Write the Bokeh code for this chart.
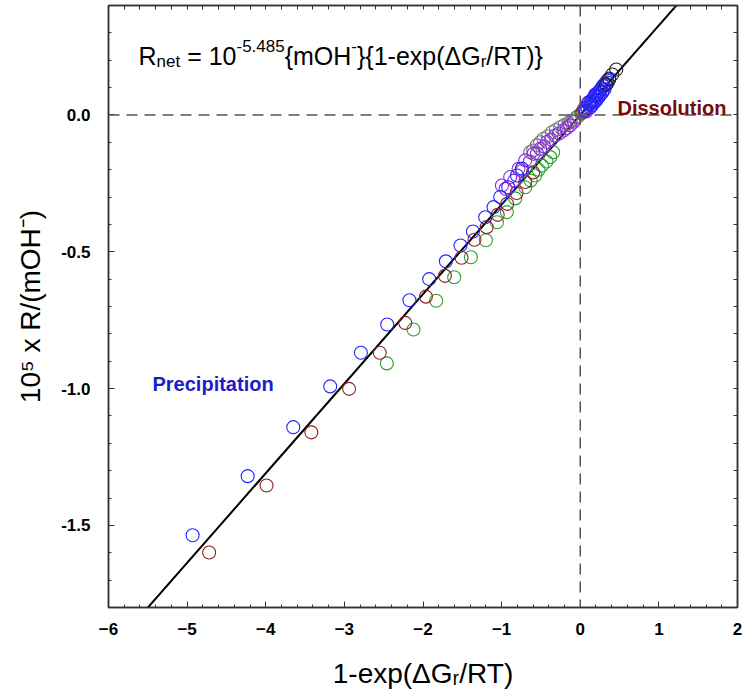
import math
import numpy as np
from bokeh.plotting import figure
from bokeh.models import Range1d, LinearAxis, FixedTicker, NumeralTickFormatter, Span, Label
from bokeh.embed import file_html
from bokeh.resources import INLINE

# ---------------- data ----------------
LOG_K = -5.485
SLOPE = 10 ** LOG_K * 1e5  # 10^5 x R/(mOH-) per unit of 1-exp(dG/RT)

blue_x = [-4.93, -4.23, -3.65, -3.18, -2.79, -2.455, -2.172, -1.921, -1.709, -1.523, -1.365,
          -1.209, -1.103, -1.018, -0.916, -0.805, -0.742,
          0.064, 0.089, 0.100, 0.115, 0.127, 0.140, 0.150, 0.165, 0.178, 0.190, 0.191, 0.204,
          0.216, 0.229, 0.242, 0.250, 0.267, 0.280, 0.293, 0.310, 0.318, 0.344, 0.350, 0.369]
blue_y = [-1.536, -1.320, -1.141, -0.992, -0.869, -0.766, -0.677, -0.600, -0.535, -0.477, -0.426,
          -0.374, -0.337, -0.300, -0.264, -0.221, -0.196,
          0.016, 0.027, 0.045, 0.038, 0.027, 0.049, 0.035, 0.057, 0.046, 0.075, 0.068, 0.053,
          0.079, 0.064, 0.086, 0.072, 0.097, 0.082, 0.108, 0.095, 0.115, 0.126, 0.118, 0.133]

red_x = [-4.72, -3.99, -3.42, -2.94, -2.55, -2.226, -1.963, -1.721, -1.510, -1.345,
         -1.19, -1.05, -0.93, -0.81, -0.70, -0.60, 0.025, 0.051]
red_y = [-1.599, -1.354, -1.160, -1.001, -0.869, -0.760, -0.664, -0.588, -0.522, -0.456,
         -0.410, -0.365, -0.325, -0.285, -0.245, -0.210, 0.009, 0.016]

green_x = [-2.46, -2.121, -1.832, -1.603, -1.391, -1.20, -1.060, -0.933, -0.827, -0.700,
           -0.630, -0.573, -0.530, -0.487, -0.430, -0.382, -0.344, 0.013, 0.038]
green_y = [-0.908, -0.784, -0.679, -0.593, -0.520, -0.458, -0.392, -0.355, -0.305, -0.264,
           -0.240, -0.221, -0.200, -0.185, -0.170, -0.154, -0.136, 0.005, 0.013]

purple_x = [-0.996, -0.950, -0.891, -0.840, -0.785, -0.740, -0.700, -0.640, -0.594, -0.550,
            -0.509, -0.460, -0.424, -0.370, -0.318, -0.270, -0.212, -0.170, -0.127, -0.080,
            0.051, 0.076, 0.102, 0.140, 0.153, 0.180, 0.204, 0.230, 0.254, 0.280, 0.305]
purple_y = [-0.258, -0.270, -0.227, -0.240, -0.197, -0.205, -0.166, -0.170, -0.142, -0.140,
            -0.124, -0.115, -0.099, -0.090, -0.075, -0.068, -0.057, -0.048, -0.038, -0.025,
            0.024, 0.013, 0.042, 0.035, 0.057, 0.052, 0.071, 0.070, 0.090, 0.085, 0.104]

gray_x = [-0.636, -0.600, -0.551, -0.510, -0.467, -0.410, -0.360, -0.310, -0.254, -0.200,
          -0.149, -0.120, -0.085, -0.051, -0.025]
gray_y = [-0.136, -0.130, -0.111, -0.100, -0.087, -0.078, -0.063, -0.055, -0.045, -0.037,
          -0.029, -0.022, -0.020, -0.009, -0.005]

black_x = [0.331, 0.369, 0.407, 0.458]
black_y = [0.111, 0.130, 0.148, 0.166]

x_major = [-6, -5, -4, -3, -2, -1, 0, 1, 2]
y_major = [-1.5, -1.0, -0.5, 0.0]

# ---------------- figure ----------------
FL, FT, FW, FH = 108, 5, 629, 602
W, H = 742, 696
FONT = "Liberation Sans"

p = figure(width=W, height=H, x_range=Range1d(-6, 2), y_range=Range1d(-1.8, 0.4),
           output_backend="svg", toolbar_location=None,
           min_border_left=FL, min_border_right=W - FL - FW, min_border_top=FT,
           min_border_bottom=H - FT - FH, x_axis_location=None, y_axis_location=None)
p.xgrid.visible = False
p.ygrid.visible = False
p.outline_line_color = "#333333"
p.outline_line_width = 1.5
p.background_fill_color = "white"
p.border_fill_color = "white"

x_minor = [round(v, 2) for v in np.arange(-6, 2.001, 0.2)]
y_minor = [round(v, 2) for v in np.arange(-1.8, 0.401, 0.1)]
xt = FixedTicker(ticks=x_major, minor_ticks=x_minor)
yt = FixedTicker(ticks=y_major, minor_ticks=y_minor)


def style_axis(ax):
    ax.axis_line_color = "#333333"
    ax.axis_line_width = 1.5
    ax.major_tick_in = 6
    ax.major_tick_out = 0
    ax.minor_tick_in = 3
    ax.minor_tick_out = 0
    ax.major_tick_line_color = "#333333"
    ax.minor_tick_line_color = "#333333"
    ax.major_label_text_font = FONT
    ax.major_label_text_font_style = "bold"
    ax.major_label_text_font_size = "17px"
    ax.major_label_text_color = "black"
    ax.axis_label_text_font = FONT
    ax.axis_label_text_font_style = "normal"
    ax.axis_label_text_font_size = "28px"
    ax.axis_label_text_color = "black"


xb = LinearAxis(ticker=xt, axis_label="1-exp(ΔGᵣ/RT)")
style_axis(xb)
xb.major_label_standoff = 15
xb.axis_label_standoff = 20
p.add_layout(xb, "below")
yl = LinearAxis(ticker=yt, formatter=NumeralTickFormatter(format="0.0"),
                axis_label="10⁵ x R/(mOH⁻)")
style_axis(yl)
yl.major_label_standoff = 18
yl.axis_label_standoff = 12
p.add_layout(yl, "left")

# mirrored tick marks on top / right (no labels)
for loc, minors in (("above", x_minor), ("right", y_minor)):
    ax = LinearAxis(ticker=FixedTicker(ticks=[], minor_ticks=minors))
    style_axis(ax)
    ax.minor_tick_in = 4
    ax.major_label_standoff = 0
    p.add_layout(ax, loc)

# reference dashed lines
p.add_layout(Span(location=0, dimension="width", line_color="#555555", line_width=1.5,
                  line_dash="11 7"))
p.add_layout(Span(location=0, dimension="height", line_color="#555555", line_width=1.5,
                  line_dash="11 7"))

# fitted rate law line
lx = [-6.0, 2.0]
p.line(lx, [SLOPE * v for v in lx], line_color="black", line_width=2)

# data (open circles)
series = [
    (gray_x, gray_y, "#7a7a7a"),
    (green_x, green_y, "#2ca02c"),
    (red_x, red_y, "#8b2323"),
    (purple_x, purple_y, "#8a2be2"),
    (blue_x, blue_y, "#2424ff"),
    (black_x, black_y, "#222222"),
]
for sx, sy, col in series:
    p.scatter(sx, sy, size=13, marker="circle", fill_color=None, line_color=col,
              line_width=1.1)

# ---------------- text pieces ----------------
ADV = {'0': 556, '1': 556, '2': 556, '3': 556, '4': 556, '5': 556, '6': 556, '7': 556,
       '8': 556, '9': 556, ' ': 278, '=': 584, '-': 333, '.': 278, '{': 334, '}': 334,
       'm': 833, 'O': 778, 'H': 722, 'e': 556, 'x': 500, 'p': 556, '(': 333, ')': 333,
       'Δ': 668, 'G': 778, 'R': 722, 'T': 611, '/': 278, 'n': 556, 't': 278, 'r': 333}


def tw(s, size):
    return sum(ADV[c] for c in s) * size / 1000.0


def put(text, px, py, size, color="black", bold=False):
    p.add_layout(Label(x=px - FL, y=(FT + FH) - py, x_units="screen", y_units="screen",
                       text=text, text_font=FONT, text_font_size=f"{size}px",
                       text_font_style="bold" if bold else "normal", text_color=color,
                       text_align="left", text_baseline="alphabetic"))


def run_h(parts, px0, py0):
    px = px0
    for text, size, dy in parts:
        body = text.lstrip(" ")
        lead = tw(text[:len(text) - len(body)], size)
        put(body, px + lead, py0 + dy, size)
        px += tw(text, size)


F, f = 25, 17
run_h([("R", F, 0), ("net", f, 6), (" = 10", F, 0), ("-5.485", f, -10), ("{mOH", F, 0),
       ("-", f, -10), ("}{1-exp(ΔG", F, 0), ("r", f, 6), ("/RT)}", F, 0)], 138, 55)

put("Precipitation", 152, 383, 20, color="#1c1cc8", bold=True)
put("Dissolution", 617, 107, 20, color="#7a0a0a", bold=True)

open("out.html", "w").write(file_html(p, INLINE))
